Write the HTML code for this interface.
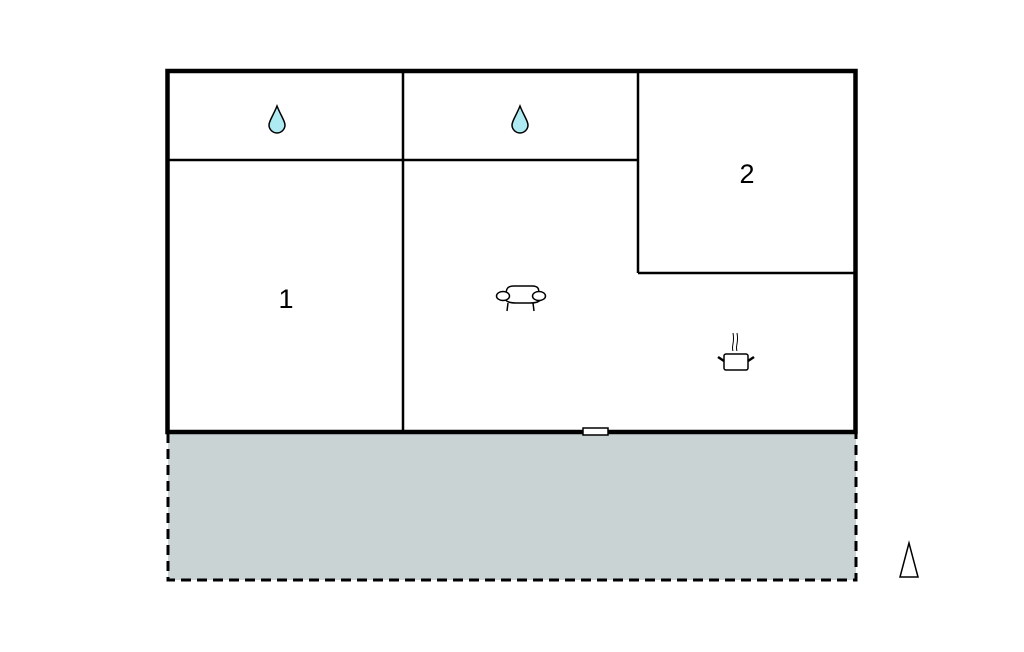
<!DOCTYPE html>
<html><head><style>body{margin:0;background:#fff}</style></head><body>
<svg width="1024" height="652" xmlns="http://www.w3.org/2000/svg" style="display:block">
<rect x="168" y="433" width="688" height="147" fill="#c9d3d3"/>
<path d="M168 433 V580 H856 V433" fill="none" stroke="#000" stroke-width="3" stroke-dasharray="10,6"/>
<g stroke="#000" stroke-width="2.5" fill="none">
<line x1="403" y1="71" x2="403" y2="432"/>
<line x1="167" y1="160" x2="638" y2="160"/>
<line x1="638" y1="71" x2="638" y2="273"/>
<line x1="638" y1="273" x2="855" y2="273"/>
</g>
<rect x="167.5" y="71" width="688" height="361" fill="none" stroke="#000" stroke-width="4.5"/>
<rect x="583" y="428" width="25" height="7" fill="#fff" stroke="#000" stroke-width="1.5"/>
<g fill="#aeeaf2" stroke="#000" stroke-width="1.5">
<path d="M277 106 C273 116 269 121 269 125 A8 8 0 0 0 285 125 C285 121 281 116 277 106Z"/>
<path d="M520 106 C516 116 512 121 512 125 A8 8 0 0 0 528 125 C528 121 524 116 520 106Z"/>
</g>
<g font-family="Liberation Sans, sans-serif" font-size="27" text-anchor="middle">
<text x="286" y="308">1</text>
<text x="747" y="183">2</text>
</g>
<g fill="#fff" stroke="#000" stroke-width="1.5">
<path d="M506 296 C506 289 507 286 514 286 H532 C539 286 539 289 539 296"/>
<path d="M503 297 C506 302 510 303 516 303 H530 C536 303 540 302 543 297" fill="none"/>
<line x1="508" y1="303" x2="507" y2="311"/><line x1="533" y1="303" x2="534" y2="311"/>
<ellipse cx="503" cy="296" rx="6.5" ry="4.5"/>
<ellipse cx="539" cy="296" rx="6.5" ry="4.5"/>
<rect x="724" y="354" width="24" height="16" rx="2"/>
<line x1="718" y1="357" x2="724" y2="361" stroke-width="2.5"/>
<line x1="754" y1="357" x2="748" y2="361" stroke-width="2.5"/>
<path d="M733 351 C731 346 735 343 733 333 M737 351 C735 346 739 343 737 333" fill="none" stroke-width="1"/>
</g>
<polygon points="909,543 900,577 918,577" fill="#fff" stroke="#000" stroke-width="1.5"/>
</svg>
</body></html>
